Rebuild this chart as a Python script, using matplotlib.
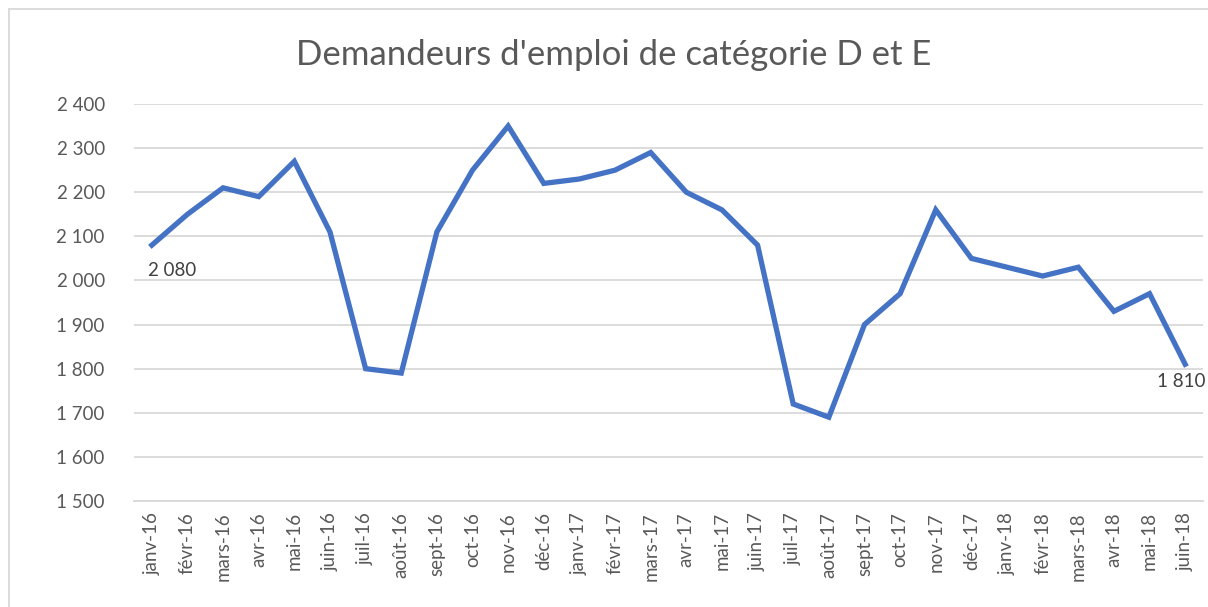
import matplotlib.pyplot as plt
from matplotlib.ticker import FuncFormatter, MultipleLocator
from matplotlib.lines import Line2D

plt.rcParams['font.family'] = ['Lato', 'DejaVu Sans']

# Data
months = ['janv-16', 'févr-16', 'mars-16', 'avr-16', 'mai-16', 'juin-16',
          'juil-16', 'août-16', 'sept-16', 'oct-16', 'nov-16', 'déc-16',
          'janv-17', 'févr-17', 'mars-17', 'avr-17', 'mai-17', 'juin-17',
          'juil-17', 'août-17', 'sept-17', 'oct-17', 'nov-17', 'déc-17',
          'janv-18', 'févr-18', 'mars-18', 'avr-18', 'mai-18', 'juin-18']
values = [2080, 2150, 2210, 2190, 2270, 2110,
          1800, 1790, 2110, 2250, 2350, 2220,
          2230, 2250, 2290, 2200, 2160, 2080,
          1720, 1690, 1900, 1970, 2160, 2050,
          2030, 2010, 2030, 1930, 1970, 1810]

W, H = 1208, 607
fig = plt.figure(figsize=(W / 100, H / 100), dpi=100)
ax = fig.add_axes([134 / W, 1 - 501 / H, (1203 - 134) / W, (501 - 104) / H])

x = list(range(len(months)))
ax.plot(x, values, color='#4472C4', linewidth=3.8, solid_joinstyle='miter', zorder=3)

ax.set_xlim(-0.5, len(months) - 0.5)
ax.set_ylim(1500, 2400)
ax.yaxis.set_major_locator(MultipleLocator(100))
ax.yaxis.set_major_formatter(FuncFormatter(lambda v, p: f'{int(v):,}'.replace(',', ' ')))
ax.grid(axis='y', color='#D9D9D9', linewidth=1.3)
ax.set_axisbelow(True)
for s in ['top', 'right', 'left']:
    ax.spines[s].set_visible(False)
ax.spines['bottom'].set_color('#D9D9D9')
ax.spines['bottom'].set_linewidth(1.3)

ax.set_xticks(x)
ax.set_xticklabels(months, rotation=90, fontsize=13.5, color='#595959')
ax.tick_params(axis='x', length=0, pad=8)
ax.tick_params(axis='y', length=0, pad=21, labelsize=13.5, labelcolor='#595959')

# data labels on first and last point
ax.annotate(f'{values[0]:,}'.replace(',', ' '), (x[0], values[0]), xytext=(-3, -12),
            textcoords='offset points', ha='left', va='top', fontsize=13.5, color='#404040')
ax.annotate(f'{values[-1]:,}'.replace(',', ' '), (x[-1], values[-1]), xytext=(-20, -6),
            textcoords='offset points', ha='left', va='top', fontsize=13.5, color='#404040',
            annotation_clip=False)

fig.text(614 / W, 1 - 55 / H, "Demandeurs d'emploi de catégorie D et E",
         ha='center', va='center', fontsize=25, color='#595959')

# chart area frame (cropped on right and bottom)
fig.add_artist(Line2D([8.5 / W, 8.5 / W], [0, 1 - 8.5 / H], transform=fig.transFigure,
                      color='#D9D9D9', linewidth=1.3))
fig.add_artist(Line2D([8.5 / W, 1], [1 - 8.5 / H, 1 - 8.5 / H], transform=fig.transFigure,
                      color='#D9D9D9', linewidth=1.3))

fig.savefig('out.png', dpi=100)
